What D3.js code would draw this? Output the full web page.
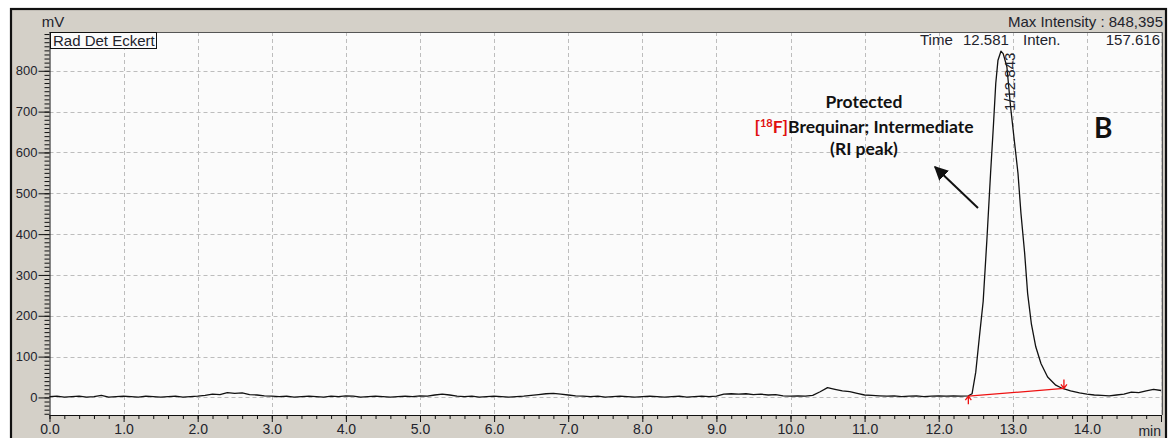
<!DOCTYPE html>
<html>
<head>
<meta charset="utf-8">
<script src="https://cdn.jsdelivr.net/npm/d3@7"></script>
<style>
  html, body { margin: 0; padding: 0; background: #fff; }
  svg { display: block; }
  .lbl { font-family: "Liberation Sans", Arial, sans-serif; font-size: 13px; fill: #22232c; }
  .note { font-family: Lato, "Open Sans", sans-serif; font-weight: bold; fill: #111; }
</style>
</head>
<body>
<svg id="chart" width="1176" height="438"></svg>
<script>
// chromatogram trace (min, mV)
const times = [
  0.0, 0.1, 0.2, 0.3, 0.4, 0.5, 0.6, 0.7, 0.8, 0.9,
  1.0, 1.1, 1.2, 1.3, 1.4, 1.5, 1.6, 1.7, 1.8, 1.9,
  2.0, 2.1, 2.2, 2.3, 2.4, 2.5, 2.6, 2.7, 2.8, 2.9,
  3.0, 3.1, 3.2, 3.3, 3.4, 3.5, 3.6, 3.7, 3.8, 3.9,
  4.0, 4.1, 4.2, 4.3, 4.4, 4.5, 4.6, 4.7, 4.8, 4.9,
  5.0, 5.1, 5.2, 5.3, 5.4, 5.5, 5.6, 5.7, 5.8, 5.9,
  6.0, 6.1, 6.2, 6.3, 6.4, 6.5, 6.6, 6.7, 6.8, 6.9,
  7.0, 7.1, 7.2, 7.3, 7.4, 7.5, 7.6, 7.7, 7.8, 7.9,
  8.0, 8.1, 8.2, 8.3, 8.4, 8.5, 8.6, 8.7, 8.8, 8.9,
  9.0, 9.1, 9.2, 9.3, 9.4, 9.5, 9.6, 9.7, 9.8, 9.9,
  10.0, 10.1, 10.2, 10.3, 10.4, 10.5, 10.6, 10.7, 10.8, 10.9,
  11.0, 11.1, 11.2, 11.3, 11.4, 11.5, 11.6, 11.7, 11.8, 11.9,
  12.0, 12.1, 12.2, 12.3, 12.4, 12.45, 12.5, 12.55, 12.6, 12.65,
  12.7, 12.74, 12.77, 12.8, 12.84, 12.87, 12.92, 12.97, 13.02, 13.07,
  13.11, 13.16, 13.2, 13.25, 13.31, 13.38, 13.47, 13.58, 13.67, 13.78,
  13.9, 14.0, 14.1, 14.2, 14.3, 14.4, 14.5, 14.6, 14.7, 14.8,
  14.9, 15.0
];
const signal = [
  2, 3, 1, 2, 3, 1, 2, 5, 1, 2,
  3, 2, 1, 3, 2, 1, 2, 3, 1, 2,
  3, 5, 8, 7, 12, 10, 11, 7, 6, 4,
  3, 2, 3, 1, 2, 3, 2, 1, 3, 2,
  4, 3, 1, 2, 3, 2, 1, 2, 3, 2,
  4, 3, 6, 8, 6, 3, 2, 3, 1, 2,
  3, 2, 1, 2, 3, 5, 7, 9, 10, 8,
  6, 4, 3, 2, 3, 1, 2, 3, 2, 1,
  2, 3, 2, 1, 2, 3, 1, 2, 3, 2,
  3, 8, 9, 8, 9, 7, 8, 6, 7, 4,
  3, 4, 3, 5, 14, 24, 20, 16, 14, 10,
  6, 5, 4, 3, 4, 2, 3, 4, 2, 3,
  4, 3, 4, 3, 4, 9, 62, 150, 235, 385,
  549, 671, 769, 826, 848, 842, 810, 712, 630, 549,
  451, 353, 255, 181, 124, 83, 50, 30, 22, 16,
  11, 8, 6, 5, 4, 6, 8, 13, 12, 16,
  20, 17
];

// integration baseline (start, end) and peak label
const baseStart = [12.40, 3];
const baseEnd = [13.69, 22];
const peakName = "1/12.843";

const yMajor = [0, 100, 200, 300, 400, 500, 600, 700, 800];
const yMinor = d3.range(-40, 895, 10);
const xMajor = d3.range(0, 16, 1);
const xMinor = d3.range(0, 15.01, 0.2);

const svg = d3.select('#chart');
const L = 49.5, R = 1161, T = 32, B = 415;

const x = d3.scaleLinear().domain([0, 15]).range([L, R]);
const y = d3.scaleLinear().domain([-43, 895]).range([B, T]);

// outer window frame
svg.append('rect')
  .attr('x', 11).attr('y', 9).attr('width', 1155).attr('height', 440)
  .attr('fill', '#d4d0c8').attr('stroke', '#111').attr('stroke-width', 2.2);

// plot area
svg.append('rect')
  .attr('x', L).attr('y', T).attr('width', R - L).attr('height', B - T)
  .attr('fill', '#fbfbfb');

// grid
const grid = svg.append('g')
  .attr('stroke', '#bdbdbd').attr('stroke-dasharray', '4,3').attr('stroke-width', 1);
grid.selectAll('line.h').data(yMajor).join('line')
  .attr('x1', L).attr('x2', R)
  .attr('y1', (d) => Math.round(y(d)) + 0.5).attr('y2', (d) => Math.round(y(d)) + 0.5);
grid.selectAll('line.v').data(xMajor.filter((d) => d > 0)).join('line')
  .attr('y1', T).attr('y2', B)
  .attr('x1', (d) => Math.round(x(d)) + 0.5).attr('x2', (d) => Math.round(x(d)) + 0.5);

// plot border top/right
svg.append('path')
  .attr('d', `M${L},${T + 0.5}H${R + 1.5}V${B}`)
  .attr('fill', 'none').attr('stroke', '#555').attr('stroke-width', 1);

// axes
const axisStyle = (g) => {
  g.select('.domain').attr('stroke', '#111');
  g.selectAll('.tick line').attr('stroke', '#111');
  g.selectAll('.tick text').attr('class', 'lbl').attr('fill', null);
};

svg.append('g')
  .attr('transform', `translate(${L},0)`)
  .call(d3.axisLeft(y).tickValues(yMinor).tickSize(5).tickFormat('').tickSizeOuter(0))
  .call(axisStyle)
  .call((g) => g.select('.domain').remove());
svg.append('g')
  .attr('transform', `translate(${L},0)`)
  .call(d3.axisLeft(y).tickValues(yMajor).tickSize(11).tickPadding(1).tickSizeOuter(0))
  .call(axisStyle)
  .call((g) => g.select('.domain').attr('d', `M0.5,${T}V${B}`));

svg.append('g')
  .attr('transform', `translate(0,${B})`)
  .call(d3.axisBottom(x).tickValues(xMinor).tickSize(4).tickFormat('').tickSizeOuter(0))
  .call(axisStyle)
  .call((g) => g.select('.domain').remove());
svg.append('g')
  .attr('transform', `translate(0,${B})`)
  .call(d3.axisBottom(x).tickValues(xMajor).tickSize(7).tickPadding(2)
    .tickFormat((d) => (d < 15 ? d3.format('.1f')(d) : '')).tickSizeOuter(0))
  .call(axisStyle)
  .call((g) => g.select('.domain').attr('d', `M${L},0.5H${R + 1}`))
  .call((g) => g.selectAll('.tick text').style('font-size', '14px'));

// trace
const pts = times.map((t, i) => [t, signal[i]]);
svg.append('path')
  .datum(pts)
  .attr('fill', 'none').attr('stroke', '#111').attr('stroke-width', 1.3)
  .attr('stroke-linejoin', 'round')
  .attr('d', d3.line().x((d) => x(d[0])).y((d) => y(d[1])));

// integration baseline + markers
const red = svg.append('g').attr('stroke', '#ee1111').attr('fill', 'none').attr('stroke-width', 1.3);
red.append('line')
  .attr('x1', x(baseStart[0])).attr('y1', y(baseStart[1]))
  .attr('x2', x(baseEnd[0])).attr('y2', y(baseEnd[1]));
const sx = x(baseStart[0]), sy = y(baseStart[1]);
red.append('path').attr('d', `M${sx},${sy}V${sy + 8}M${sx - 3},${sy + 4}L${sx},${sy}L${sx + 3},${sy + 4}`);
const ex = x(baseEnd[0]), ey = y(baseEnd[1]);
red.append('path').attr('d', `M${ex},${ey}V${ey - 9}M${ex - 3},${ey - 4}L${ex},${ey}L${ex + 3},${ey - 4}`);

// peak label
svg.append('text')
  .attr('class', 'lbl')
  .attr('transform', `translate(${x(12.843) + 14},111) rotate(-90)`)
  .style('font-size', '15px')
  .text(peakName);

// header texts
const hdr = (tx, ty, s, anchor) => svg.append('text').attr('class', 'lbl')
  .attr('x', tx).attr('y', ty).attr('text-anchor', anchor || 'start')
  .style('font-size', '15px').text(s);
hdr(53, 27, 'mV', 'middle');
hdr(1163, 27, 'Max Intensity : 848,395', 'end');
svg.append('rect').attr('x', 50.5).attr('y', 32.5).attr('width', 106).attr('height', 16)
  .attr('fill', '#fbfbfb').attr('stroke', '#111');
hdr(53, 46, 'Rad Det Eckert');
hdr(920, 45, 'Time');
hdr(963, 45, '12.581');
hdr(1023, 45, 'Inten.');
hdr(1160, 45, '157.616', 'end');
svg.append('text').attr('class', 'lbl').attr('x', 1161).attr('y', 436)
  .attr('text-anchor', 'end').style('font-size', '14px').text('min');

// annotation
const cx = 864;
const fs = '17.5px';
svg.append('text').attr('class', 'note').attr('x', cx).attr('y', 108)
  .attr('text-anchor', 'middle').style('font-size', fs).text('Protected');
const l2 = svg.append('text').attr('class', 'note').attr('x', cx).attr('y', 133)
  .attr('text-anchor', 'middle').style('font-size', fs);
l2.append('tspan').attr('fill', '#e01010').text('[');
l2.append('tspan').attr('fill', '#e01010').attr('dy', -6).style('font-size', '11px').text('18');
l2.append('tspan').attr('fill', '#e01010').attr('dy', 6).text('F]');
l2.append('tspan').text('Brequinar; Intermediate');
svg.append('text').attr('class', 'note').attr('x', cx).attr('y', 155)
  .attr('text-anchor', 'middle').style('font-size', fs).text('(RI peak)');

svg.append('defs').append('marker')
  .attr('id', 'ah').attr('viewBox', '0 0 10 10').attr('refX', 9).attr('refY', 5)
  .attr('markerWidth', 7).attr('markerHeight', 7).attr('orient', 'auto')
  .append('path').attr('d', 'M0,0L10,5L0,10z').attr('fill', '#111');
svg.append('line')
  .attr('x1', 978).attr('y1', 208).attr('x2', 935).attr('y2', 167)
  .attr('stroke', '#111').attr('stroke-width', 2).attr('marker-end', 'url(#ah)');

svg.append('text').attr('class', 'note').attr('x', 1094).attr('y', 138)
  .style('font-size', '28px').text('B');
</script>
</body>
</html>
